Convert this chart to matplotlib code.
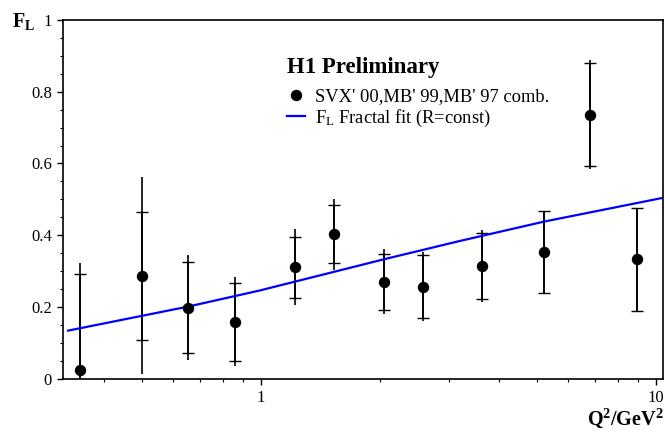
import matplotlib
matplotlib.use("Agg")
import matplotlib.pyplot as plt
import numpy as np
from matplotlib.ticker import LogLocator, NullFormatter, FixedLocator, FixedFormatter, MultipleLocator

plt.rcParams['font.family'] = ['Liberation Serif', 'DejaVu Serif']
plt.rcParams['mathtext.fontset'] = 'custom'
plt.rcParams['mathtext.rm'] = 'Liberation Serif'
plt.rcParams['mathtext.bf'] = 'Liberation Serif:bold'
plt.rcParams['mathtext.it'] = 'Liberation Serif:italic'

# data
q2 = [0.349, 0.50, 0.654, 0.858, 1.22, 1.53, 2.05, 2.57, 3.62, 5.21, 6.79, 8.93]
fl = [0.025, 0.287, 0.198, 0.159, 0.311, 0.403, 0.270, 0.257, 0.314, 0.353, 0.736, 0.333]
stat_err = [0.268, 0.179, 0.126, 0.109, 0.085, 0.080, 0.078, 0.089, 0.092, 0.114, 0.144, 0.143]
tot_err = [0.298, 0.274, 0.147, 0.124, 0.106, 0.099, 0.091, 0.097, 0.100, 0.114, 0.152, 0.143]

# fractal fit curve
fit_q2 = [0.325, 0.654, 0.994, 2.05, 3.19, 5.21, 10.5]
fit_fl = [0.134, 0.201, 0.246, 0.333, 0.384, 0.438, 0.505]

y_ticks = [0, 0.2, 0.4, 0.6, 0.8, 1]
y_labels = ['0', '0.2', '0.4', '0.6', '0.8', '1']

fig = plt.figure(figsize=(6.65, 4.32), dpi=100)
ax = fig.add_axes([62.7/665, 1-378.7/432, 600/665, 358.7/432])

# total errors (no caps), then stat errors with caps
ax.errorbar(q2, fl, yerr=tot_err, fmt='none', ecolor='black', elinewidth=1.2, capsize=0)
ax.errorbar(q2, fl, yerr=stat_err, fmt='none', ecolor='black', elinewidth=1.2,
            capsize=4.3, capthick=1.0)
fit_line, = ax.plot(fit_q2, fit_fl, color='#0000ff', linewidth=1.6,
                    label=r'F$_\mathrm{L}$ Fractal fit (R=const)')
pts, = ax.plot(q2, fl, 'o', color='black', markersize=7.2, linestyle='none',
               label="SVX' 00,MB' 99,MB' 97 comb.", zorder=5)

ax.set_xscale('log')
ax.set_xlim(0.315, 10.4)
ax.set_ylim(0, 1)

ax.xaxis.set_major_locator(FixedLocator([1, 10]))
ax.xaxis.set_major_formatter(FixedFormatter(['1', '10']))
ax.xaxis.set_minor_locator(LogLocator(base=10, subs=np.arange(2, 10)))
ax.xaxis.set_minor_formatter(NullFormatter())
ax.set_yticks(y_ticks)
ax.set_yticklabels(y_labels)
ax.yaxis.set_minor_locator(MultipleLocator(0.05))

ax.tick_params(which='major', direction='out', length=4.3, width=1.0, labelsize=12, pad=3.5)
ax.tick_params(which='minor', direction='out', length=2.2, width=0.8)
ax.tick_params(axis='x', which='major', pad=4.0)
for s in ax.spines.values():
    s.set_linewidth(1.2)

fig.text(286.7/665, 1-73.3/432, 'H1 Preliminary', fontsize=16.5, fontweight='bold',
         ha='left', va='baseline')
leg = ax.legend(handles=[pts, fit_line], loc='upper left',
                bbox_to_anchor=(286.7/665, 1-88/432), bbox_transform=fig.transFigure,
                frameon=False, fontsize=13.3, borderpad=0, borderaxespad=0,
                handlelength=1.0, handletextpad=0.55, labelspacing=0.15)

fig.text(12/665, 1-27/432, r'$\mathbf{F_L}$', fontsize=14.5, ha='left', va='baseline')
fig.text(664/665, 1-425/432, r'$\mathbf{Q^2/GeV^2}$', fontsize=14.5, ha='right', va='baseline')

plt.savefig('out.png', dpi=100)
